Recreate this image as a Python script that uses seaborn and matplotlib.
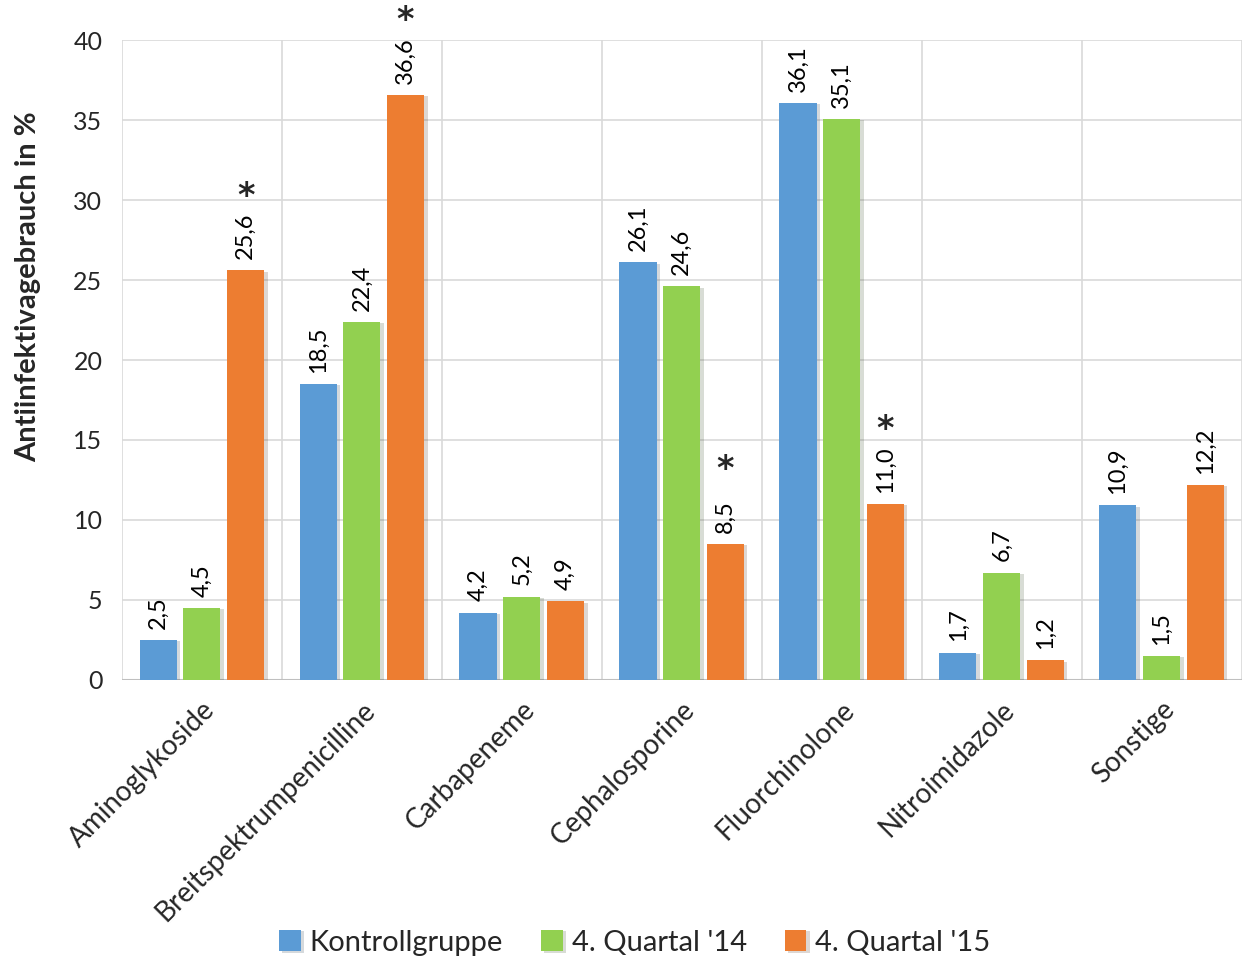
import pandas as pd
import matplotlib
matplotlib.use("Agg")
import matplotlib.pyplot as plt
import matplotlib.patheffects as pe
import seaborn as sns

# data
categories = ["Aminoglykoside", "Breitspektrumpenicilline", "Carbapeneme",
              "Cephalosporine", "Fluorchinolone", "Nitroimidazole", "Sonstige"]
groups = ["Kontrollgruppe", "4. Quartal '14", "4. Quartal '15"]
kontroll = [2.5, 18.5, 4.2, 26.1, 36.1, 1.7, 10.9]
q14 = [4.5, 22.4, 5.2, 24.6, 35.1, 6.7, 1.5]
q15 = [25.6, 36.6, 4.9, 8.5, 11.0, 1.2, 12.2]
significant = [True, True, False, True, True, False, False]  # asterisk on '15

palette = ["#5B9BD5", "#92D050", "#ED7D31"]

df = pd.DataFrame({
    "cat": categories * 3,
    "group": [groups[0]] * 7 + [groups[1]] * 7 + [groups[2]] * 7,
    "val": kontroll + q14 + q15,
})

sns.set_style("white")
plt.rcParams["font.family"] = ["Lato", "DejaVu Sans"]

fig = plt.figure(figsize=(12.44, 9.6), dpi=100)
ax = fig.add_axes([0.098, 0.292, 0.9, 0.666])

sns.barplot(data=df, x="cat", y="val", hue="group", palette=palette,
            width=0.82, gap=0.15, ax=ax, legend=True, saturation=1,
            linewidth=0)

# soft shadow like the office chart
for p in ax.patches:
    p.set_path_effects([pe.SimplePatchShadow(offset=(2.5, -1), alpha=0.18), pe.Normal()])

# grid
ax.set_ylim(0, 40)
ax.set_xlim(-0.5, len(categories) - 0.5)
ax.set_yticks(range(0, 41, 5))
for y in range(5, 41, 5):
    ax.axhline(y, color="#d9d9d9", lw=1.2, zorder=0)
for x in [i + 0.5 for i in range(-1, len(categories))]:
    ax.axvline(x, color="#d9d9d9", lw=1.2, zorder=0)
for s in ax.spines.values():
    s.set_visible(False)
ax.axhline(0, color="#bfbfbf", lw=1.5, zorder=0.5)

# value labels
fmt = lambda v: f"{v:.1f}".replace(".", ",")
for ci, cont in enumerate(ax.containers):
    vals = [kontroll, q14, q15][ci]
    for bi, bar in enumerate(cont):
        xc = bar.get_x() + bar.get_width() / 2
        top = vals[bi]
        ax.annotate(fmt(top), (xc, top), xytext=(0, 8), textcoords="offset points",
                    rotation=90, ha="center", va="bottom", fontsize=17, color="#000000")
        if ci == 2 and significant[bi]:
            ax.annotate("*", (xc, top), xytext=(0, 41.5), textcoords="offset points",
                        ha="center", va="bottom", fontsize=24, fontweight="bold",
                        family="DejaVu Sans", annotation_clip=False)

ax.set_xlabel("")
ax.set_ylabel("Antiinfektivagebrauch in %", fontsize=21, fontweight="bold")
ax.yaxis.set_label_coords(-0.072, 0.614)
ax.tick_params(axis="y", labelsize=18, length=0, pad=14)
ax.tick_params(axis="x", labelsize=20, length=0, pad=12)
plt.setp(ax.get_xticklabels(), rotation=45, ha="right", rotation_mode="anchor")

ax.legend(loc="upper center", bbox_to_anchor=(0.458, -0.35), ncol=3, frameon=False,
          fontsize=21, handlelength=0.75, handleheight=0.75, handletextpad=0.3,
          columnspacing=1.3)

fig.savefig("out.png", dpi=100)
